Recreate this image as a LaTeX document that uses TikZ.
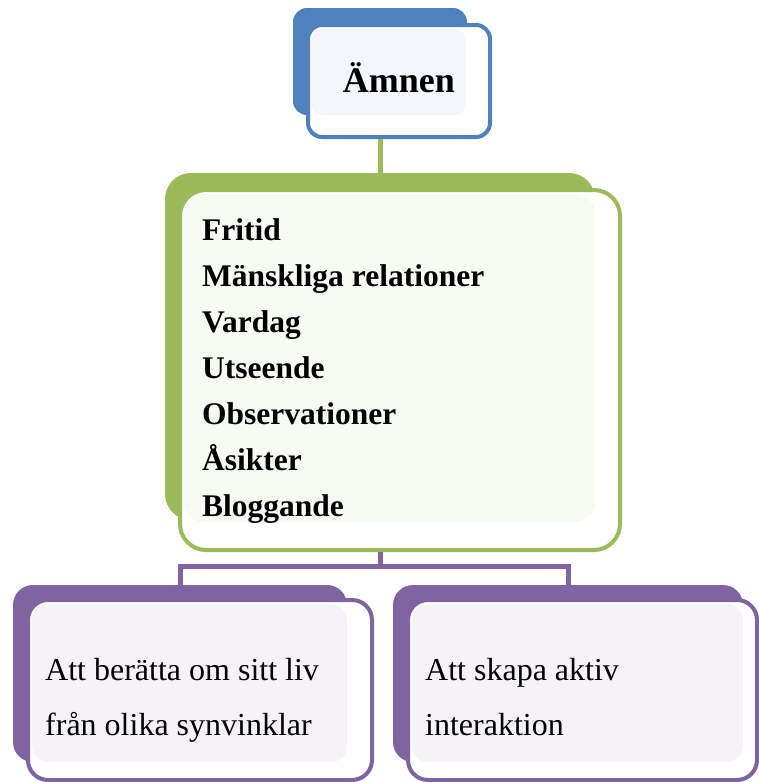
\documentclass[tikz,border=0pt]{standalone}
\usepackage{fontspec}
\setmainfont{Liberation Serif}
\usetikzlibrary{positioning}
\definecolor{topic}{HTML}{4F81BD}
\definecolor{theme}{HTML}{9BBB59}
\definecolor{aim}{HTML}{8064A2}

\begin{document}
\begin{tikzpicture}[x=1pt,y=-1pt,
  backbox/.style={fill=#1,inner sep=0pt},
  frontbox/.style={draw=#1,line width=4pt,fill=white,inner sep=0pt},
  link/.style={draw=#1,line width=5pt},
  themetext/.style={font=\fontsize{31.5}{36}\selectfont\bfseries,anchor=base west,inner sep=0pt},
  aimtext/.style={font=\fontsize{32}{38}\selectfont,anchor=base west,inner sep=0pt}]
  \useasboundingbox (0,0) rectangle (759,782);

  % Topic
  \node[backbox=topic,rounded corners=14pt,minimum width=174pt,minimum height=107pt] (topicback) at (380,61.5) {};
  \node[frontbox=topic,rounded corners=14pt,minimum width=182pt,minimum height=112pt] (topic) at (399,81) {};
  \fill[topic!7,rounded corners=10pt] (312,29) rectangle (465,115);
  \node[font=\fontsize{36}{40}\selectfont\bfseries,anchor=base,inner sep=0pt] (topictext) at (399,92) {Ämnen};

  % Themes
  \node[backbox=theme,rounded corners=26pt,minimum width=430pt,minimum height=347pt] (themesback) at (380,346.5) {};
  \node[frontbox=theme,rounded corners=26pt,minimum width=440pt,minimum height=360pt] (themes) at (400,370) {};
  \fill[theme!8,rounded corners=20pt] (184,194) rectangle (595,522);
  \foreach \txt [count=\i] in {Fritid,Mänskliga relationer,Vardag,Utseende,Observationer,Åsikter,Bloggande}
    \node[themetext] (theme\i) at (202,194+46*\i) {\txt};

  % Aims
  \node[backbox=aim,rounded corners=20pt,minimum width=334pt,minimum height=177pt] (leftback) at (180,673.5) {};
  \node[frontbox=aim,rounded corners=20pt,minimum width=344pt,minimum height=180pt] (left) at (200,690) {};
  \fill[aim!8,rounded corners=16pt] (32,604) rectangle (347,762);
  \node[aimtext] (left1) at (45,680) {Att berätta om sitt liv};
  \node[aimtext] (left2) at (45,735) {från olika synvinklar};

  \node[backbox=aim,rounded corners=20pt,minimum width=350pt,minimum height=177pt] (rightback) at (568,673.5) {};
  \node[frontbox=aim,rounded corners=20pt,minimum width=349pt,minimum height=180pt] (right) at (582.5,690) {};
  \fill[aim!8,rounded corners=16pt] (412,604) rectangle (743,762);
  \node[aimtext] (right1) at (425,680) {Att skapa aktiv};
  \node[aimtext] (right2) at (425,735) {interaktion};

  % Connectors
  \coordinate (fork) at (380,566);
  \draw[link=theme] (topic.south -| topicback.south) -- (themesback.north);
  \draw[link=aim] (themes.south -| themesback.south) -- (fork);
  \draw[link=aim] (leftback.north) |- (fork) -| (rightback.north);
\end{tikzpicture}
\end{document}
